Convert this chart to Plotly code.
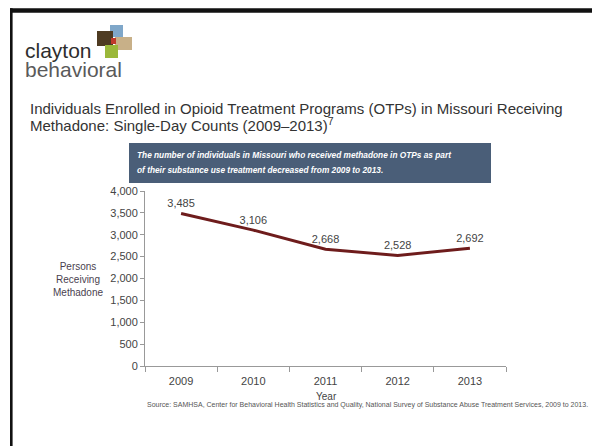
import plotly.graph_objects as go

years = ["2009", "2010", "2011", "2012", "2013"]
persons = [3485, 3106, 2668, 2528, 2692]
y_ticks = [0, 500, 1000, 1500, 2000, 2500, 3000, 3500, 4000]

W, H = 592, 446
L, R, T, B = 145, 86, 191, 80
PW, PH = W - L - R, H - T - B

def px(x):
    return (x - L) / PW

def py(y):
    return (H - B - y) / PH

FONT = "Liberation Sans, Arial"

fig = go.Figure()
fig.add_trace(go.Scatter(
    x=years, y=persons, mode="lines+markers+text",
    line=dict(color="#6e1c1c", width=3),
    marker=dict(size=4, opacity=0, color="#6e1c1c"),
    text=[f"{v:,}" for v in persons], textposition="top center",
    textfont=dict(size=11, color="#444444", family=FONT),
    cliponaxis=False,
    hoverinfo="skip", showlegend=False,
))

shapes = []
# black frame (left and top)
shapes.append(dict(type="rect", xref="paper", yref="paper",
                   x0=px(10), x1=px(W + 2), y0=py(12.8), y1=py(8.3),
                   fillcolor="#111111", line=dict(width=0), layer="above"))
shapes.append(dict(type="rect", xref="paper", yref="paper",
                   x0=px(10), x1=px(12.6), y0=py(H + 2), y1=py(8.3),
                   fillcolor="#111111", line=dict(width=0), layer="above"))
# callout box
shapes.append(dict(type="rect", xref="paper", yref="paper",
                   x0=px(129), x1=px(491), y0=py(183), y1=py(143),
                   fillcolor="#4a5e78", line=dict(width=0)))
# logo squares
logo = [
    (110, 123, 25, 37, "#7fa7c9"),
    (115, 132, 37, 50, "#c8b088"),
    (97, 113, 31, 46, "#4e3b22"),
    (105, 118, 45, 58, "#9bb83a"),
    (111, 116, 38, 44, "#c0392b"),
]
for x0, x1, y0, y1, c in logo:
    shapes.append(dict(type="rect", xref="paper", yref="paper",
                       x0=px(x0), x1=px(x1), y0=py(y1), y1=py(y0),
                       fillcolor=c, line=dict(width=0)))

annos = [
    dict(x=px(23), y=py(50), text="clayton", xanchor="left", yanchor="middle",
         font=dict(size=21, color="#2e2e2e", family=FONT)),
    dict(x=px(23), y=py(69), text="behavioral", xanchor="left", yanchor="middle",
         font=dict(size=21, color="#5a5a5a", family=FONT)),
    dict(x=px(28), y=py(109), text="Individuals Enrolled in Opioid Treatment Programs (OTPs) in Missouri Receiving",
         xanchor="left", yanchor="middle", align="left",
         font=dict(size=15, color="#333333", family=FONT)),
    dict(x=px(28), y=py(125), text="Methadone: Single-Day Counts (2009–2013)<sup>7</sup>",
         xanchor="left", yanchor="middle", align="left",
         font=dict(size=15, color="#333333", family=FONT)),
    dict(x=px(135), y=py(155), text="<b><i>The number of individuals in Missouri who received methadone in OTPs as part</i></b>",
         xanchor="left", yanchor="middle", align="left",
         font=dict(size=8.3, color="#ffffff", family=FONT)),
    dict(x=px(135), y=py(170), text="<b><i>of their substance use treatment decreased from 2009 to 2013.</i></b>",
         xanchor="left", yanchor="middle", align="left",
         font=dict(size=8.3, color="#ffffff", family=FONT)),
    dict(x=px(78), y=py(279), text="Persons<br>Receiving<br>Methadone",
         xanchor="center", yanchor="middle", align="center",
         font=dict(size=10, color="#4a3f4f", family=FONT)),
    dict(x=px(326), y=py(396), text="Year", xanchor="center", yanchor="middle",
         font=dict(size=10, color="#444444", family=FONT)),
    dict(x=px(590), y=py(405), text="Source: SAMHSA, Center for Behavioral Health Statistics and Quality, National Survey of Substance Abuse Treatment Services, 2009 to 2013.",
         xanchor="right", yanchor="middle",
         font=dict(size=7, color="#555555", family=FONT)),
]
for a in annos:
    a.update(xref="paper", yref="paper", showarrow=False)
    fig.add_annotation(**a)

fig.update_layout(
    width=W, height=H,
    margin=dict(l=L, r=R, t=T, b=B),
    paper_bgcolor="#ffffff", plot_bgcolor="#ffffff",
    shapes=shapes,
    xaxis=dict(type="category", range=[-0.5, 4.5], tickson="boundaries",
               showline=True, linecolor="#999999", linewidth=1,
               ticks="outside", ticklen=5, tickcolor="#999999",
               ticklabelstandoff=5,
               showgrid=False, zeroline=False,
               tickfont=dict(size=11, color="#444444", family=FONT)),
    yaxis=dict(range=[0, 4000], tickvals=y_ticks, tickformat=",",
               showline=True, linecolor="#999999", linewidth=1,
               ticks="outside", ticklen=4, tickcolor="#999999",
               showgrid=False, zeroline=False,
               tickfont=dict(size=11, color="#444444", family=FONT)),
)

fig.write_html("out.html", config={"displayModeBar": False},
               post_script="document.body.style.margin='0';")
